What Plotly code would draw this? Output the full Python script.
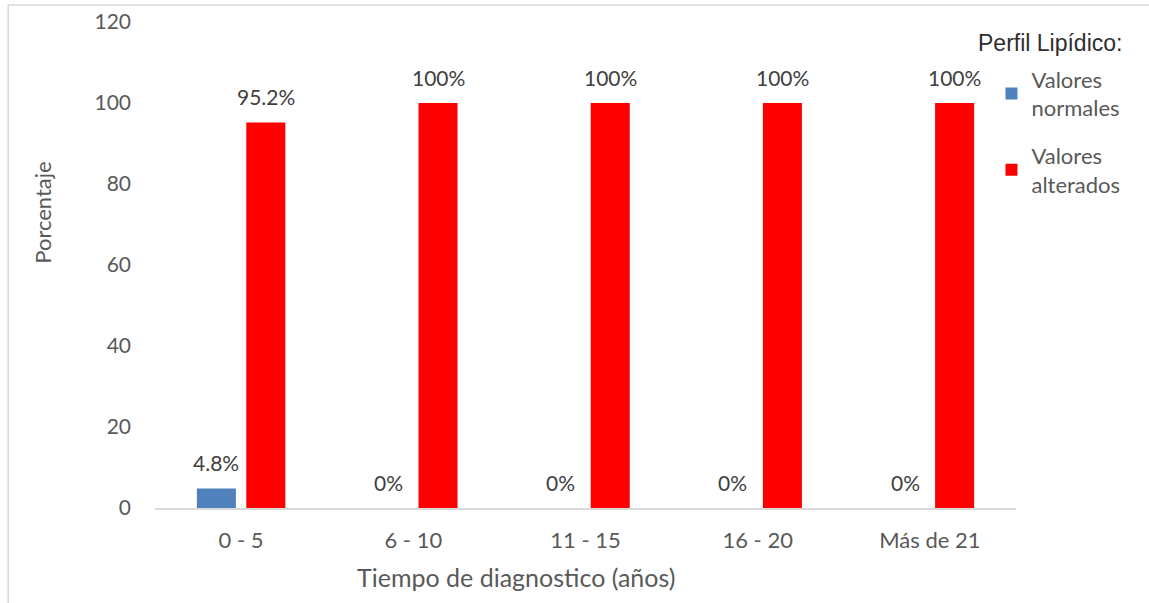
import plotly.graph_objects as go

# Time since diagnosis and lipid profile percentages
categorias = ["0 - 5", "6 - 10", "11 - 15", "16 - 20", "Más de 21"]
valores_normales = [4.8, 0, 0, 0, 0]
valores_alterados = [95.2, 100, 100, 100, 100]
etiquetas_normales = ["4.8%", "0%", "0%", "0%", "0%"]
etiquetas_alterados = ["95.2%", "100%", "100%", "100%", "100%"]
ticks_y = [0, 20, 40, 60, 80, 100, 120]

FONT = "Lato"
x_pos = list(range(len(categorias)))

fig = go.Figure()
fig.add_trace(go.Bar(
    x=x_pos, y=valores_normales, name="Valores<br>normales", legendgroup="n",
    marker=dict(color="#4F81BD", line=dict(width=0)),
))
fig.add_trace(go.Bar(
    x=x_pos, y=valores_alterados, name="Valores<br>alterados", legendgroup="a",
    marker=dict(color="#FF0000", line=dict(width=0)),
))

# Value labels above each bar
slot = (1 - 0.426) / 2
for vals, labs, off in [(valores_normales, etiquetas_normales, -slot / 2),
                        (valores_alterados, etiquetas_alterados, slot / 2)]:
    for i, (v, t) in enumerate(zip(vals, labs)):
        fig.add_annotation(x=i + off, y=v, text=t, showarrow=False,
                           yshift=26, font=dict(family=FONT, size=21, color="#404040"))

# Legend heading
fig.add_annotation(xref="paper", yref="paper", x=1.039, y=0.957, text="Perfil Lipídico:",
                   showarrow=False, xanchor="center", yanchor="middle",
                   font=dict(family="Liberation Sans", size=23, color="#2E2E2E"))

# Axis titles
fig.add_annotation(xref="paper", yref="paper", x=0.419, y=-0.142,
                   text="Tiempo de diagnostico (años)", showarrow=False,
                   xanchor="center", yanchor="middle",
                   font=dict(family=FONT, size=25, color="#595959"))
fig.add_annotation(xref="paper", yref="paper", x=-0.131, y=0.608,
                   text="Porcentaje", showarrow=False, textangle=-90,
                   xanchor="center", yanchor="middle",
                   font=dict(family=FONT, size=22, color="#595959"))

# Outer frame edges (top and left)
fig.add_shape(type="line", xref="paper", yref="paper", x0=-0.1705, x1=1.2, y0=1.035, y1=1.035,
              line=dict(color="#D9D9D9", width=1.5))
fig.add_shape(type="line", xref="paper", yref="paper", x0=-0.1705, x1=-0.1705, y0=1.035, y1=-0.25,
              line=dict(color="#D9D9D9", width=1.5))

fig.update_layout(
    width=1149, height=603,
    margin=dict(l=155, r=133, t=22, b=95, autoexpand=False),
    paper_bgcolor="white", plot_bgcolor="white",
    barmode="group", bargap=0.426, bargroupgap=0.21,
    font=dict(family=FONT, color="#595959"),
    legend=dict(x=0.9715, y=0.925, xanchor="left", yanchor="top",
                font=dict(family=FONT, size=22, color="#595959"),
                traceorder="grouped", tracegroupgap=16, itemwidth=30,
                bgcolor="rgba(0,0,0,0)"),
    xaxis=dict(
        tickmode="array", tickvals=x_pos, ticktext=categorias,
        range=[-0.5, len(categorias) - 0.5], automargin=False,
        showline=True, linecolor="#D9D9D9", linewidth=1.5,
        showgrid=False, zeroline=False, ticks="",
        tickfont=dict(family=FONT, size=22, color="#595959"),
        ticklabelstandoff=12,
    ),
    yaxis=dict(
        range=[0, 120], tickmode="array", tickvals=ticks_y, automargin=False,
        showgrid=False, zeroline=False, showline=False, ticks="",
        tickfont=dict(family=FONT, size=21, color="#595959"),
        ticklabelstandoff=23,
    ),
)

fig.write_html("out.html")
